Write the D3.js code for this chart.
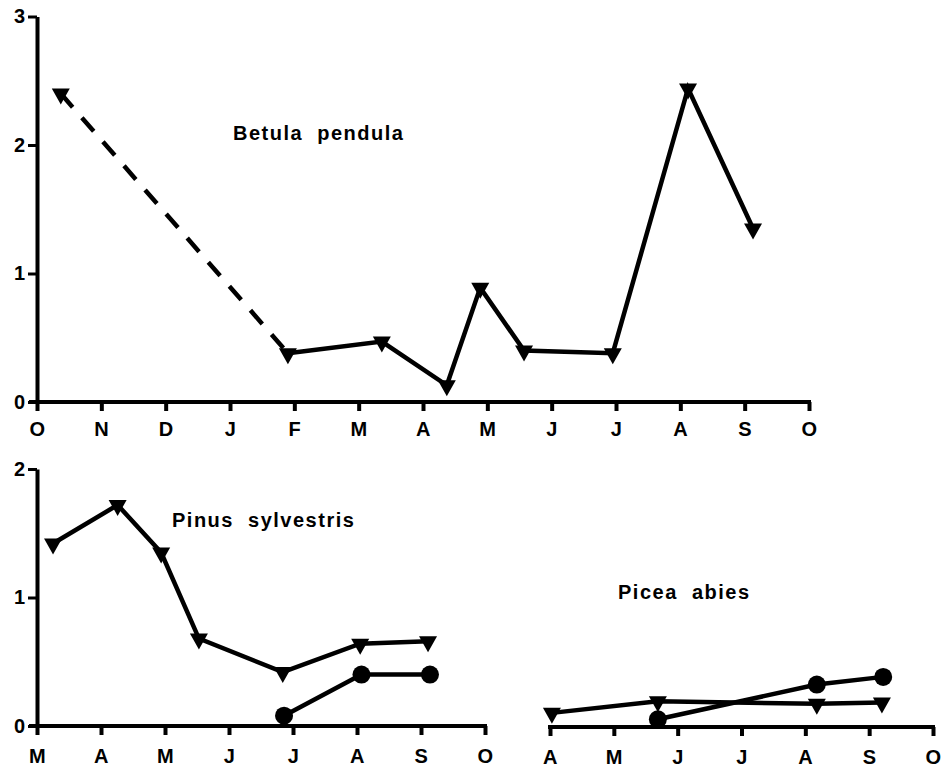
<!DOCTYPE html>
<html>
<head>
<meta charset="utf-8">
<script src="https://cdn.jsdelivr.net/npm/d3@7"></script>
<style>
  body { margin: 0; background: #fff; }
  text { font-family: "Liberation Sans", Arial, sans-serif; font-weight: bold; fill: #000; }
</style>
</head>
<body>
<div id="chart"></div>
<script>
// Month labels for the three x axes
const betulaMonths = ["O", "N", "D", "J", "F", "M", "A", "M", "J", "J", "A", "S", "O"];
const pinusMonths = ["M", "A", "M", "J", "J", "A", "S", "O"];
const piceaMonths = ["A", "M", "J", "J", "A", "S", "O"];

// Betula pendula (months from first tick, value)
const betulaX = [0.37, 3.9, 5.36, 6.37, 6.89, 7.57, 8.95, 10.12, 11.13];
const betulaY = [2.40, 0.38, 0.47, 0.13, 0.89, 0.40, 0.38, 2.44, 1.35];

// Pinus sylvestris
const pinusTriX = [0.25, 1.26, 1.94, 2.53, 3.84, 5.05, 6.11];
const pinusTriY = [1.42, 1.72, 1.35, 0.68, 0.42, 0.64, 0.66];
const pinusDotX = [3.86, 5.07, 6.14];
const pinusDotY = [0.08, 0.40, 0.40];

// Picea abies
const piceaTriX = [0.03, 1.69, 4.18, 5.2];
const piceaTriY = [0.11, 0.20, 0.18, 0.19];
const piceaDotX = [1.69, 4.18, 5.22];
const piceaDotY = [0.06, 0.33, 0.39];

const width = 949, height = 769;
const svg = d3.select('#chart').append('svg')
    .attr('width', width)
    .attr('height', height);

const zip = (xs, ys) => xs.map((x, i) => ({ x: x, y: ys[i] }));

// Draw one panel; returns scales
function panel(opts) {
    const x = d3.scaleLinear().domain([0, opts.months.length - 1]).range([opts.x0, opts.x1]);
    const y = d3.scaleLinear().domain([0, opts.ymax]).range([opts.y0, opts.y0 - opts.ymax * 128.5]);
    const g = svg.append('g');

    // x axis
    const xAxis = d3.axisBottom(x)
        .tickValues(d3.range(opts.months.length))
        .tickFormat(i => opts.months[i])
        .tickSize(9)
        .tickPadding(opts.pad)
        .tickSizeOuter(0);
    const ax = g.append('g').attr('transform', `translate(0,${opts.y0})`).call(xAxis);
    ax.select('.domain').attr('stroke', '#000').attr('stroke-width', 4)
        .attr('d', `M${opts.yAxis ? opts.x0 - 8 : opts.x0 - 2},0H${opts.x1 + 2}`);
    ax.selectAll('.tick line').attr('stroke', '#000').attr('stroke-width', 4);
    ax.selectAll('.tick text').style('font-size', '20px').style('letter-spacing', '0.5px').attr('fill', '#000');

    if (opts.yAxis) {
        const yAxis = d3.axisLeft(y)
            .tickValues(d3.range(opts.ymax + 1))
            .tickFormat(d3.format('d'))
            .tickSize(9)
            .tickPadding(3)
            .tickSizeOuter(0);
        const ay = g.append('g').attr('transform', `translate(${opts.x0},0)`).call(yAxis);
        ay.select('.domain').attr('stroke', '#000').attr('stroke-width', 4);
        ay.selectAll('.tick line').attr('stroke', '#000').attr('stroke-width', 3);
        ay.selectAll('.tick text').style('font-size', '20px').attr('fill', '#000');
    }

    g.append('text')
        .attr('x', opts.labelX)
        .attr('y', opts.labelY)
        .attr('xml:space', 'preserve')
        .style('white-space', 'pre')
        .style('font-size', '20px')
        .style('letter-spacing', '1.5px')
        .text(opts.label);

    return { g, x, y };
}

const line = (x, y) => d3.line().x(d => x(d.x)).y(d => y(d.y));

function drawLine(p, data, dash) {
    p.g.append('path')
        .datum(data)
        .attr('fill', 'none')
        .attr('stroke', '#000')
        .attr('stroke-width', 4.5)
        .attr('stroke-linejoin', 'miter')
        .attr('stroke-dasharray', dash || null)
        .attr('d', line(p.x, p.y));
}

const triPath = 'M-9,-5L9,-5L0,11Z';
function drawTri(p, data) {
    p.g.selectAll(null).data(data).enter().append('path')
        .attr('d', triPath)
        .attr('fill', '#000')
        .attr('transform', d => `translate(${p.x(d.x)},${p.y(d.y)})`);
}
function drawDot(p, data) {
    p.g.selectAll(null).data(data).enter().append('circle')
        .attr('cx', d => p.x(d.x))
        .attr('cy', d => p.y(d.y))
        .attr('r', 9)
        .attr('fill', '#000');
}

// Betula pendula
const betulaPanel = panel({ months: betulaMonths, x0: 37, x1: 809, y0: 402, ymax: 3, yAxis: true, pad: 11,
    label: 'Betula  pendula', labelX: 233, labelY: 140 });
const betula = zip(betulaX, betulaY);
drawLine(betulaPanel, betula.slice(0, 2), '18,14');
drawLine(betulaPanel, betula.slice(1));
drawTri(betulaPanel, betula);

// Pinus sylvestris
const pinusPanel = panel({ months: pinusMonths, x0: 37, x1: 485, y0: 726, ymax: 2, yAxis: true, pad: 14,
    label: 'Pinus  sylvestris', labelX: 172, labelY: 527 });
const pinusTri = zip(pinusTriX, pinusTriY);
const pinusDot = zip(pinusDotX, pinusDotY);
drawLine(pinusPanel, pinusTri);
drawLine(pinusPanel, pinusDot);
drawTri(pinusPanel, pinusTri);
drawDot(pinusPanel, pinusDot);

// Picea abies
const piceaPanel = panel({ months: piceaMonths, x0: 550, x1: 933, y0: 727, ymax: 2, yAxis: false, pad: 14,
    label: 'Picea  abies', labelX: 618, labelY: 599 });
const piceaTri = zip(piceaTriX, piceaTriY);
const piceaDot = zip(piceaDotX, piceaDotY);
drawLine(piceaPanel, piceaTri);
drawLine(piceaPanel, piceaDot);
drawTri(piceaPanel, piceaTri);
drawDot(piceaPanel, piceaDot);
</script>
</body>
</html>
